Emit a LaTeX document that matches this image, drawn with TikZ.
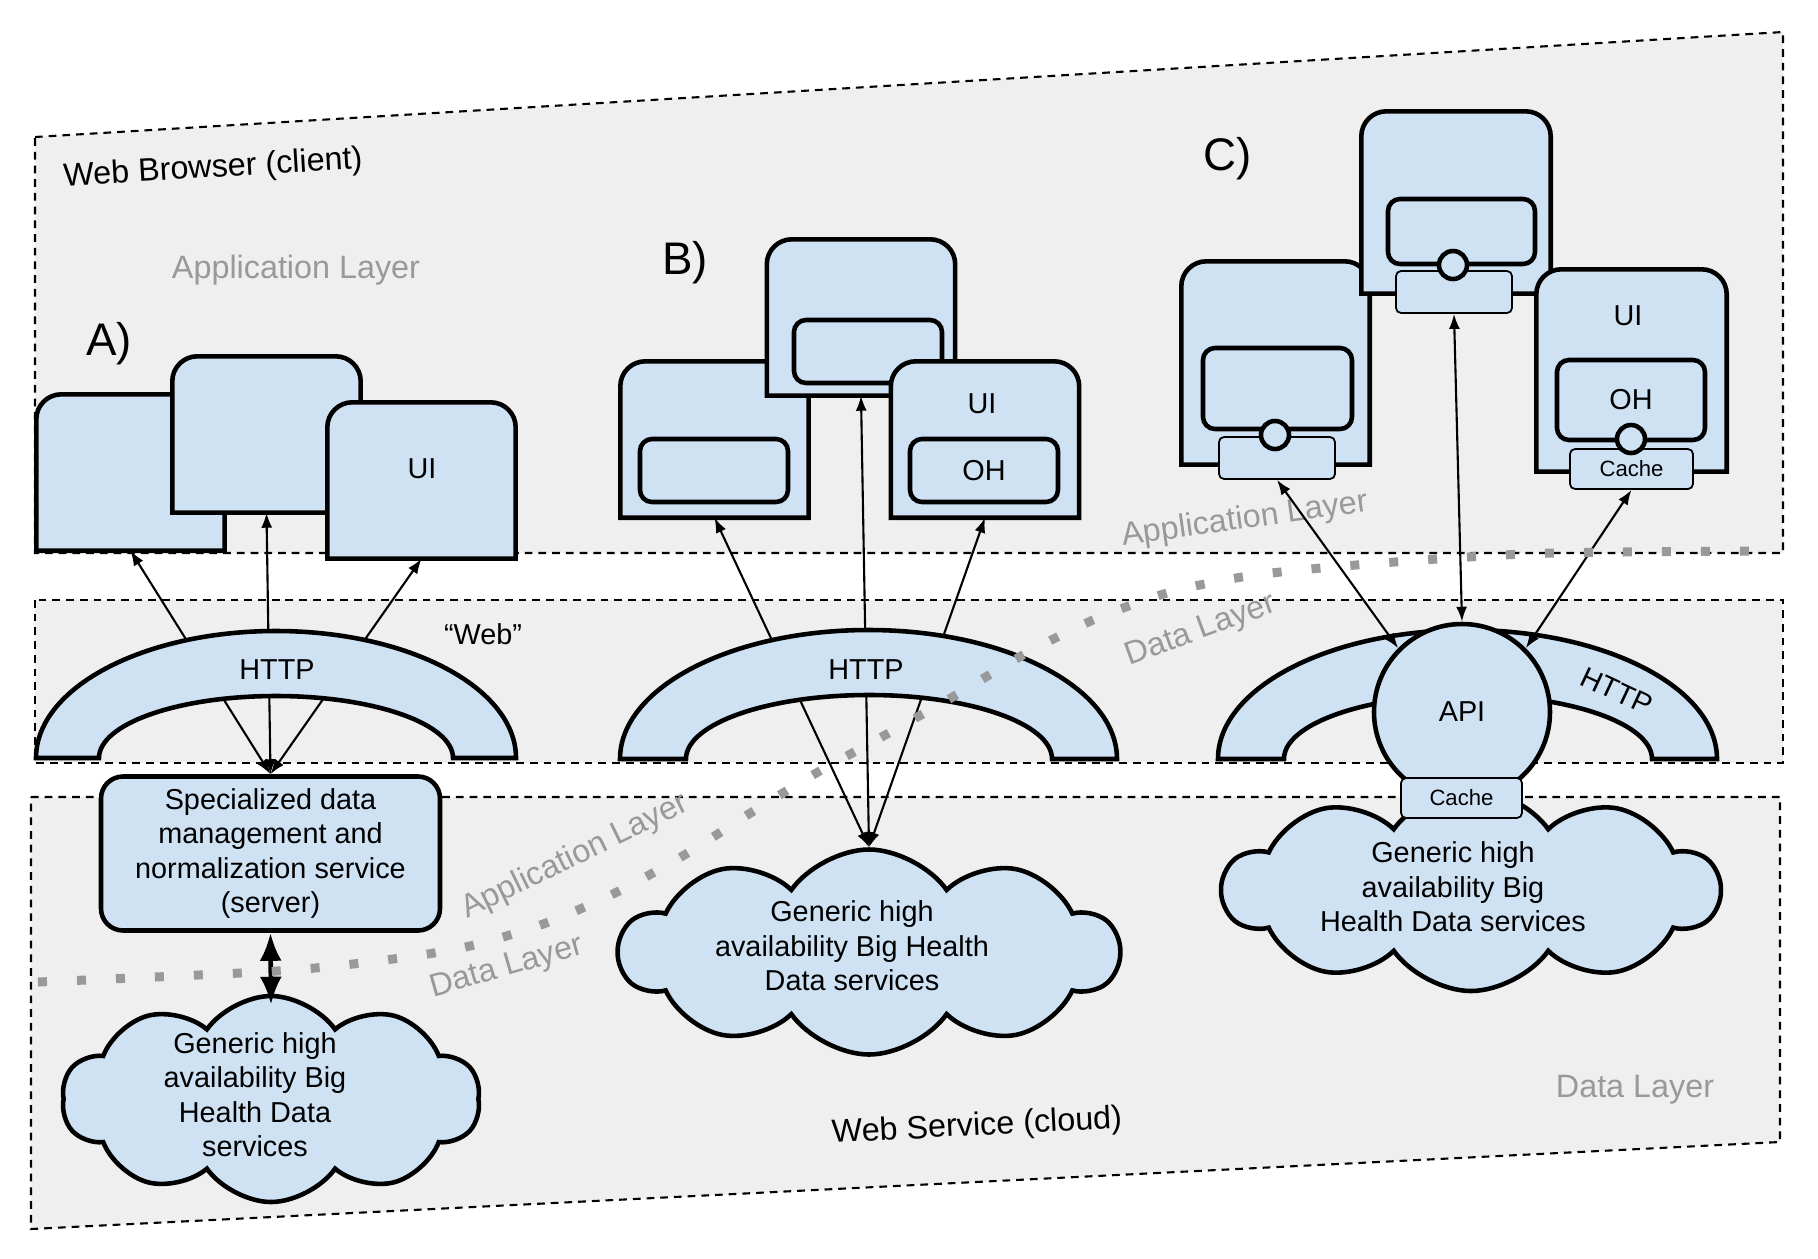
\documentclass[tikz,border=0pt]{standalone}
\usepackage{fontspec}
\setmainfont{Liberation Sans}
\usetikzlibrary{shapes.symbols,arrows.meta,positioning}

\definecolor{paleblue}{HTML}{CFE2F3}
\definecolor{zonegray}{HTML}{EFEFEF}
\definecolor{layergray}{HTML}{999999}

\tikzset{
 zone/.style={draw=black,line width=0.6pt,dash pattern=on 2.2pt off 1.7pt,fill=zonegray},
 win/.style={minimum width=1.87cm,minimum height=1.55cm,inner sep=0pt},
 winline/.style={draw=black,line width=1.3pt,fill=paleblue},
 inbox/.style={draw=black,line width=1.3pt,fill=paleblue,rounded corners=0.12cm,minimum width=1.48cm,minimum height=0.63cm,inner sep=0pt},
 tabbox/.style={draw=black,line width=0.5pt,fill=paleblue,rounded corners=0.05cm,minimum width=1.16cm,minimum height=0.42cm,inner sep=0pt,font=\fontsize{6.3}{7.5}\selectfont},
 port/.style={circle,draw=black,line width=1.3pt,fill=paleblue,minimum size=0.28cm,inner sep=0pt},
 lbl/.style={font=\fontsize{8.2}{9.8}\selectfont,align=center},
 zonetxt/.style={font=\fontsize{9.2}{11}\selectfont},
 layertxt/.style={font=\fontsize{9.2}{11}\selectfont,text=layergray},
 bigtxt/.style={font=\fontsize{13}{15}\selectfont},
 svbox/.style={draw=black,line width=1.3pt,fill=paleblue,rounded corners=0.22cm,minimum width=3.39cm,minimum height=1.54cm,inner sep=0pt},
 cloudbox/.style={cloud,cloud puffs=10,cloud puff arc=110,cloud ignores aspect,draw=black,line width=1.3pt,fill=paleblue,inner sep=0pt},
 archline/.style={draw=black,line width=1.3pt,fill=paleblue},
 link/.style={line width=0.6pt,>={Latex[length=1.5mm,width=1.1mm]},<->},
 biglink/.style={line width=1.3pt,>={Latex[length=2.8mm,width=2.2mm]},<->},
 layerdots/.style={line width=0.09cm,draw=layergray,dash pattern=on 0.09cm off 0.30cm}
}

% browser window with rounded top corners
\newcommand{\winshape}[1]{%
 \draw[winline] (#1.south west) -- ([yshift=-0.25cm]#1.north west)
  arc[start angle=180,end angle=90,radius=0.25cm] -- ([xshift=-0.25cm]#1.north east)
  arc[start angle=90,end angle=0,radius=0.25cm] -- (#1.south east) -- cycle;}

\begin{document}
\begin{tikzpicture}
\useasboundingbox (0,0) rectangle (18.18,-12.58);

% zones
\draw[zone] (0.35,-1.37) -- (17.83,-0.32) -- (17.83,-5.53) -- (0.35,-5.53) -- cycle;
\draw[zone] (0.35,-6.00) rectangle (17.83,-7.63);
\draw[zone] (0.31,-7.97) -- (17.80,-7.97) -- (17.80,-11.42) -- (0.31,-12.29) -- cycle;

\node[zonetxt,rotate=3.4] (browserTitle) at (2.13,-1.69) {Web Browser (client)};
\node[lbl] (webTitle) at (4.83,-6.34) {“Web”};
\node[zonetxt,rotate=3] (cloudTitle) at (9.77,-11.27) {Web Service (cloud)};

\node[layertxt] (appTop) at (2.96,-2.70) {Application Layer};
\node[layertxt,rotate=8] (appRight) at (12.45,-5.20) {Application Layer};
\node[layertxt,rotate=20] (dataMid) at (12.01,-6.31) {Data Layer};
\node[layertxt,rotate=26] (appLeft) at (5.75,-8.57) {Application Layer};
\node[layertxt,rotate=16] (dataLeft) at (5.07,-9.68) {Data Layer};
\node[layertxt] (dataRight) at (16.35,-10.90) {Data Layer};

\node[bigtxt] (labA) at (1.09,-3.44) {A)};
\node[bigtxt] (labB) at (6.85,-2.63) {B)};
\node[bigtxt] (labC) at (12.28,-1.59) {C)};

% A) windows
\node[win] (A1) at (1.305,-4.725) {}; \winshape{A1}
\node[win] (A2) at (2.665,-4.345) {}; \winshape{A2}
\node[win] (A3) at (4.215,-4.805) {}; \winshape{A3}
\node[lbl] (uiA) at (4.22,-4.69) {UI};

% B) windows
\node[win] (B1) at (7.145,-4.395) {}; \winshape{B1}
\node[inbox] (inB1) at (7.14,-4.705) {};
\node[win] (B2) at (8.61,-3.175) {}; \winshape{B2}
\node[inbox] (inB2) at (8.68,-3.515) {};
\node[win] (B3) at (9.85,-4.395) {}; \winshape{B3}
\node[lbl] (uiB) at (9.82,-4.04) {UI};
\node[inbox,lbl] (ohB) at (9.84,-4.705) {OH};

% C) windows
\node[win,minimum height=2.02cm] (C1) at (12.755,-3.63) {}; \winshape{C1}
\node[inbox,minimum width=1.49cm,minimum height=0.81cm] (inC1) at (12.775,-3.885) {};
\node[tabbox] (tabC1) at (12.77,-4.58) {};
\node[port] (portC1) at (12.75,-4.35) {};
\node[win,minimum width=1.88cm,minimum height=1.81cm] (C2) at (14.56,-2.025) {}; \winshape{C2}
\node[inbox,minimum width=1.47cm,minimum height=0.65cm] (inC2) at (14.615,-2.315) {};
\node[tabbox] (tabC2) at (14.54,-2.92) {};
\node[port] (portC2) at (14.53,-2.65) {};
\node[win,minimum width=1.89cm,minimum height=2.01cm] (C3) at (16.315,-3.705) {}; \winshape{C3}
\node[lbl] (uiC) at (16.28,-3.16) {UI};
\node[inbox,lbl,minimum height=0.80cm] (ohC) at (16.31,-4.00) {OH};
\node[tabbox,minimum width=1.23cm,minimum height=0.40cm] (cacheC3) at (16.315,-4.69) {Cache};
\node[port] (portC3) at (16.31,-4.39) {};

% server and clouds
\node[svbox,lbl] (server) at (2.705,-8.535) {Specialized data\\management and\\normalization service\\(server)};
\node[cloudbox,minimum width=4.18cm,minimum height=2.06cm] (cloudA) at (2.71,-10.99) {};
\node[lbl] (cloudAtxt) at (2.55,-10.945) {Generic high\\availability Big\\Health Data\\services};
\node[cloudbox,minimum width=4.99cm,minimum height=2.05cm] (cloudB) at (8.69,-9.52) {};
\node[lbl] (cloudBtxt) at (8.52,-9.46) {Generic high\\availability Big Health\\Data services};
\node[cloudbox,minimum width=4.96cm,minimum height=2.02cm] (cloudC) at (14.71,-8.90) {};
\node[lbl] (cloudCtxt) at (14.53,-8.87) {Generic high\\availability Big\\Health Data services};

% A) and B) connectors, under the arches
\draw[link] (server.north) -- (A1.south);
\draw[link] (server.north) -- (A2.south);
\draw[link] (server.north) -- (A3.south);
\draw[link] (cloudB.north) -- (B1.south);
\draw[link] (cloudB.north) -- (B2.south);
\draw[link] (cloudB.north) -- (B3.south);
\draw[biglink] (server.south) -- ([yshift=-0.11cm]cloudA.north);

% HTTP arches
\draw[archline] (0.36,-7.58) arc[start angle=180,end angle=0,x radius=2.40cm,y radius=1.27cm]
 -- ++(-0.63,0) arc[start angle=0,end angle=180,x radius=1.77cm,y radius=0.62cm] -- cycle;
\draw[archline] (6.20,-7.59) arc[start angle=180,end angle=0,x radius=2.485cm,y radius=1.29cm]
 -- ++(-0.65,0) arc[start angle=0,end angle=180,x radius=1.83cm,y radius=0.64cm] -- cycle;
\draw[archline] (12.18,-7.59) arc[start angle=180,end angle=0,x radius=2.495cm,y radius=1.29cm]
 -- ++(-0.65,0) arc[start angle=0,end angle=180,x radius=1.84cm,y radius=0.64cm] -- cycle;
\node[lbl] (httpA) at (2.77,-6.70) {HTTP};
\node[lbl] (httpB) at (8.66,-6.70) {HTTP};
\node[lbl,rotate=-25] (httpC) at (16.17,-6.91) {HTTP};

% C) API
\node[circle,draw=black,line width=1.3pt,fill=paleblue,minimum size=1.76cm,inner sep=0pt,lbl] (api) at (14.62,-7.12) {API};
\node[tabbox,minimum width=1.21cm,minimum height=0.40cm] (apicache) at (14.615,-7.98) {Cache};
\draw[link] (tabC1.south) -- (api.135);
\draw[link] (tabC2.south) -- (api.north);
\draw[link] (cacheC3.south) -- (api.45);

% layer border
\draw[layerdots] plot[smooth,tension=0.5] coordinates {(0.38,-9.82) (2.77,-9.71) (3.93,-9.59)
 (4.70,-9.46) (5.46,-9.23) (6.17,-8.92) (6.86,-8.54) (7.52,-8.12) (8.18,-7.72) (8.87,-7.34)
 (9.56,-6.95) (10.23,-6.55) (10.93,-6.20) (11.67,-5.93) (12.42,-5.77) (13.21,-5.68)
 (14.37,-5.59) (15.54,-5.53) (17.51,-5.51)};
\end{tikzpicture}
\end{document}
